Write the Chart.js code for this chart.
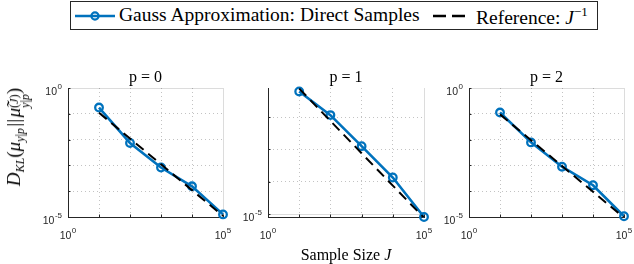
<!DOCTYPE html>
<html>
<head>
<meta charset="utf-8">
<script src="https://cdn.jsdelivr.net/npm/chart.js@4"></script>
<style>
body{margin:0;background:#fff;}
#wrap{position:relative;width:634px;height:264px;overflow:hidden;background:#fff;}
#wrap canvas{position:absolute;left:0;top:0;}
.serif{font-family:"Liberation Serif",serif;color:#000;}
#legend{position:absolute;left:70px;top:1px;width:528px;height:29px;box-sizing:border-box;border:1px solid #262626;background:#fff;font-size:19.5px;}
#legend svg{position:absolute;top:0;}
#legend .txt{position:absolute;top:2px;white-space:nowrap;}
#xlab{position:absolute;left:346px;top:246px;transform:translateX(-50%);font-size:16px;white-space:nowrap;}
#ylab{position:absolute;left:17px;top:137px;transform:translate(-50%,-50%) rotate(-90deg);font-size:19px;white-space:nowrap;}
#ylab sub{font-size:12px;vertical-align:-4px;line-height:0;}
#ylab .ss{display:inline-block;vertical-align:-9px;line-height:11px;font-size:12px;}
#ylab .ss span{display:block;}
</style>
</head>
<body>
<div id="wrap">
<canvas id="c0" width="634" height="264"></canvas>
<canvas id="c1" width="634" height="264"></canvas>
<canvas id="c2" width="634" height="264"></canvas>

<div id="legend" class="serif">
<svg style="left:3px" width="46" height="27"><line x1="1" y1="14" x2="41" y2="14" stroke="#0072BD" stroke-width="2.6"/><circle cx="21" cy="14" r="3.6" fill="none" stroke="#0072BD" stroke-width="2.2"/></svg>
<span class="txt" style="left:48px">Gauss Approximation: Direct Samples</span>
<svg style="left:362px" width="36" height="27"><line x1="0" y1="14" x2="33" y2="14" stroke="#000" stroke-width="2.4" stroke-dasharray="13,6"/></svg>
<span class="txt" style="left:405px">Reference: <i>J</i><sup style="font-size:13px">&minus;1</sup></span>
</div>

<div id="xlab" class="serif">Sample Size <i>J</i></div>
<div id="ylab" class="serif"><i>D</i><sub><i>KL</i></sub>(<i>μ</i><sub><i>y</i>|<i>p</i></sub>&#8202;||&#8202;<i>μ̃</i><span class="ss"><span>(<i>J</i>)</span><span><i>y</i>|<i>p</i></span></span>)</div>
</div>

<script>
// sample sizes J
const sampleSizes = [10, 100, 1000, 10000, 100000];

// KL divergence, Gauss approximation with direct samples
const klP0 = [0.175, 0.0074, 0.00083, 0.000155, 0.0000126];
const klP1 = [0.062, 0.0115, 0.00126, 0.000135, 0.0000081];
const klP2 = [0.112, 0.0078, 0.00089, 0.00017, 0.0000107];

// reference J^-1 lines
const refP0 = [0.11, 0.011, 0.0011, 0.00011, 0.000011];
const refP1 = [0.076, 0.0076, 0.00076, 0.000076, 0.0000076];
const refP2 = [0.095, 0.0095, 0.00095, 0.000095, 0.0000095];

const panelTitles = ["p = 0", "p = 1", "p = 2"];

// ticks
const xTickValues = [1, 10, 100, 1000, 10000, 100000];
const xTickLabels = ["10^0", "", "", "", "", "10^5"];
const yTickValuesFull = [0.00001, 0.0001, 0.001, 0.01, 0.1, 1];
const yTickLabelsFull = ["10^-5", "", "", "", "", "10^0"];
const yTickValuesP1 = [0.00001, 0.0001, 0.001, 0.01];
const yTickLabelsP1 = ["10^-5", "", "", ""];

const BLUE = "#0072BD";
const AXIS = "#262626";

function drawPower(ctx, label, x, y, align){
  const parts = label.split("^");
  ctx.font = '10.5px "Liberation Sans"';
  const wb = ctx.measureText(parts[0]).width;
  ctx.font = '8px "Liberation Sans"';
  const we = ctx.measureText(parts[1]).width;
  const w = wb + we + 0.5;
  const x0 = align === "right" ? x - w : x - w / 2;
  ctx.textAlign = "left";
  ctx.font = '10.5px "Liberation Sans"';
  ctx.fillText(parts[0], x0, y);
  ctx.font = '8px "Liberation Sans"';
  ctx.fillText(parts[1], x0 + wb + 0.5, y - 5.5);
}

const panelDeco = {
  id: "panelDeco",
  afterDraw(chart, args, o){
    const {ctx, chartArea: a} = chart;
    const xs = chart.scales.x, ys = chart.scales.y;
    ctx.save();
    ctx.strokeStyle = AXIS;
    ctx.lineWidth = 1;
    o.xTicks.forEach(v => {
      const px = Math.round(xs.getPixelForValue(v)) + 0.5;
      ctx.beginPath(); ctx.moveTo(px, a.bottom); ctx.lineTo(px, a.bottom - 2.5); ctx.stroke();
    });
    o.yTicks.forEach(v => {
      const py = Math.round(ys.getPixelForValue(v)) + 0.5;
      ctx.beginPath(); ctx.moveTo(a.left, py); ctx.lineTo(a.left + 2.5, py); ctx.stroke();
    });
    ctx.fillStyle = AXIS;
    o.xTicks.forEach((v, i) => {
      if (o.xLabels[i]) drawPower(ctx, o.xLabels[i], xs.getPixelForValue(v), a.bottom + 21.5, "center");
    });
    o.yTicks.forEach((v, i) => {
      if (o.yLabels[i]) drawPower(ctx, o.yLabels[i], a.left - 6, ys.getPixelForValue(v) + 6.7, "right");
    });
    ctx.fillStyle = "#000";
    ctx.textAlign = "center";
    ctx.font = '16px "Liberation Serif"';
    ctx.fillText(o.title, (a.left + a.right) / 2, 82);
    ctx.restore();
  }
};

function makePanel(id, title, kl, ref, yMin, yMax, yTicks, yLabels, box){
  const yMajor = yTicks.filter((v, i) => yLabels[i]);
  const xMajor = xTickValues.filter((v, i) => xTickLabels[i]);
  new Chart(document.getElementById(id), {
    type: "line",
    data: {
      labels: sampleSizes,
      datasets: [{
        data: sampleSizes.map((j, i) => ({x: j, y: kl[i]})),
        borderColor: BLUE,
        borderWidth: 2.6,
        pointRadius: 3.8,
        pointBorderWidth: 2.3,
        pointBorderColor: BLUE,
        pointBackgroundColor: "rgba(255,255,255,0)",
        fill: false,
        tension: 0,
        clip: false,
        order: 1
      }, {
        data: sampleSizes.map((j, i) => ({x: j, y: ref[i]})),
        borderColor: "#000",
        borderWidth: 2,
        borderDash: [10, 6],
        pointRadius: 0,
        fill: false,
        tension: 0,
        clip: 0,
        order: 0
      }]
    },
    options: {
      responsive: false,
      animation: false,
      events: [],
      layout: {padding: {left: box[0], right: 634 - box[1], top: box[2], bottom: 264 - box[3]}},
      plugins: {
        legend: {display: false},
        tooltip: {enabled: false},
        panelDeco: {title: title, xTicks: xTickValues, xLabels: xTickLabels, yTicks: yTicks, yLabels: yLabels}
      },
      scales: {
        x: {
          type: "logarithmic",
          position: "bottom",
          min: 1, max: 100000,
          bounds: "data",
          afterBuildTicks: s => { s.ticks = xTickValues.map(v => ({value: v})); },
          ticks: {display: false},
          grid: {
            drawTicks: false,
            lineWidth: 1,
            color: c => c.tick && xMajor.includes(c.tick.value) ? "rgba(38,38,38,0.16)" : "rgba(38,38,38,0.28)"
          },
          border: {
            display: true, color: AXIS, width: 1,
            dash: c => c.tick && !xMajor.includes(c.tick.value) ? [1, 3] : []
          }
        },
        y: {
          type: "logarithmic",
          position: "left",
          min: yMin, max: yMax,
          bounds: "data",
          afterBuildTicks: s => { s.ticks = yTicks.map(v => ({value: v})); },
          ticks: {display: false},
          grid: {
            drawTicks: false,
            lineWidth: 1,
            color: c => c.tick && yMajor.includes(c.tick.value) ? "rgba(38,38,38,0.16)" : "rgba(38,38,38,0.28)"
          },
          border: {
            display: true, color: AXIS, width: 1,
            dash: c => c.tick && !yMajor.includes(c.tick.value) ? [1, 3] : []
          }
        }
      }
    },
    plugins: [panelDeco]
  });
}

makePanel("c0", panelTitles[0], klP0, refP0, 0.00001, 1, yTickValuesFull, yTickLabelsFull, [68, 223, 88, 217]);
makePanel("c1", panelTitles[1], klP1, refP1, 0.0000081, 0.0794, yTickValuesP1, yTickLabelsP1, [268, 424, 88, 217]);
makePanel("c2", panelTitles[2], klP2, refP2, 0.00001, 1, yTickValuesFull, yTickLabelsFull, [469, 624, 88, 217]);
</script>
</body>
</html>
